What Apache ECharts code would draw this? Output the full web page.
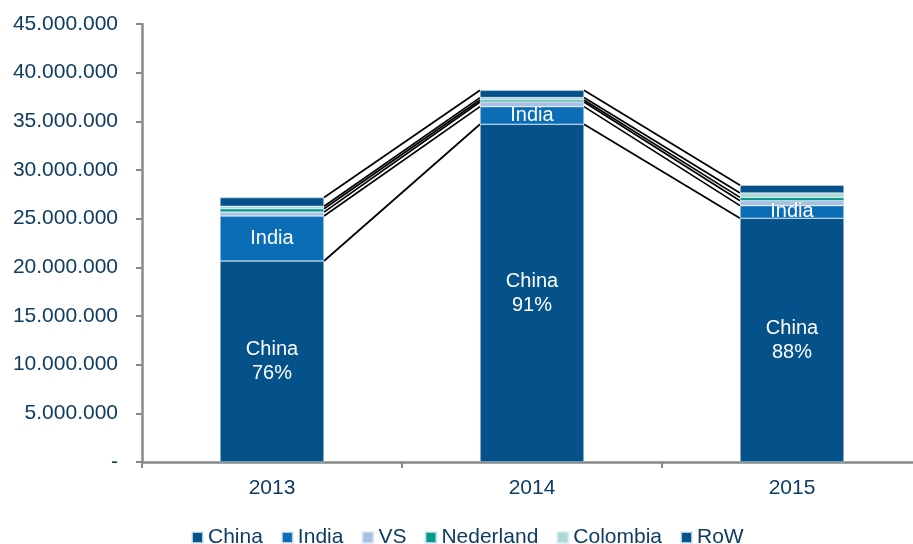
<!DOCTYPE html>
<html>
<head>
<meta charset="utf-8">
<script src="https://cdn.jsdelivr.net/npm/echarts@6/dist/echarts.min.js"></script>
<style>html,body{margin:0;padding:0;background:#fff;overflow:hidden;width:913px;height:544px}#c{width:922px;height:544px}</style>
</head>
<body>
<div id="c"></div>
<script>
var years = ['2013', '2014', '2015'];
var china = [20650000, 34700000, 25040000];
var india = [4620000, 1810000, 1300000];
var vs = [400000, 480000, 500000];
var nederland = [350000, 200000, 350000];
var colombia = [250000, 250000, 450000];
var row = [900000, 750000, 800000];
var yTicks = [0, 5000000, 10000000, 15000000, 20000000, 25000000, 30000000, 35000000, 40000000, 45000000];

var seriesNames = ['China', 'India', 'VS', 'Nederland', 'Colombia', 'RoW'];
var seriesData = [china, india, vs, nederland, colombia, row];
var colors = ['#045289', '#0b6db6', '#a7bfe2', '#00998c', '#a9d9d2', '#045289'];
var textColor = '#0e3c62';
var font = 'Liberation Sans, Arial, sans-serif';

var totals = years.map(function (y, i) {
  var s = 0; seriesData.forEach(function (d) { s += d[i]; }); return s;
});

function fmt(v) {
  if (v === 0) return '-';
  return String(Math.round(v)).replace(/\B(?=(\d{3})+(?!\d))/g, '.');
}

// connector line data: [leftIndex, cumLeft, cumRight]
var lineData = [];
for (var k = 0; k < seriesData.length; k++) {
  for (var i = 0; i < years.length - 1; i++) {
    var a = 0, b = 0;
    for (var j = 0; j <= k; j++) { a += seriesData[j][i]; b += seriesData[j][i + 1]; }
    lineData.push([i, a, b]);
  }
}

var series = seriesNames.map(function (name, idx) {
  var s = {
    name: name,
    type: 'bar',
    stack: 'total',
    barWidth: '40%',
    data: seriesData[idx],
    itemStyle: { color: colors[idx], borderColor: 'rgba(220,232,245,0.8)', borderWidth: 0.6 },
    emphasis: { disabled: true },
    z: 3
  };
  if (name === 'China') {
    s.label = {
      show: true, position: 'inside', color: '#fff', fontFamily: font, fontSize: 20, lineHeight: 24,
      formatter: function (p) { return 'China\n' + Math.round(p.value / totals[p.dataIndex] * 100) + '%'; }
    };
  }
  if (name === 'India') {
    s.label = { show: true, position: 'inside', color: '#fff', fontFamily: font, fontSize: 20, formatter: 'India' };
  }
  return s;
});

series.push({
  type: 'custom',
  name: 'connectors',
  silent: true,
  z: 2,
  data: lineData,
  renderItem: function (params, api) {
    var i = api.value(0);
    var p1 = api.coord([i, api.value(1)]);
    var p2 = api.coord([i + 1, api.value(2)]);
    var half = api.size([1, 0])[0] * 0.2;
    return {
      type: 'line',
      shape: { x1: p1[0] + half, y1: p1[1], x2: p2[0] - half, y2: p2[1] },
      style: { stroke: '#000', lineWidth: 1.7 }
    };
  }
});

var chart = echarts.init(document.getElementById('c'));
chart.setOption({
  animation: false,
  backgroundColor: '#fff',
  grid: { left: 142, right: 0, top: 24, bottom: 82, containLabel: false },
  legend: {
    data: seriesNames,
    left: 186, top: 522,
    icon: 'rect', itemWidth: 11, itemHeight: 11, itemGap: 18,
    textStyle: { color: textColor, fontFamily: font, fontSize: 21, padding: [0, 0, 0, 0] }
  },
  xAxis: {
    type: 'category',
    data: years,
    axisLine: { lineStyle: { color: '#888', width: 2.5 } },
    axisTick: { show: true, length: 6, lineStyle: { color: '#888', width: 2 } },
    axisLabel: { color: textColor, fontFamily: font, fontSize: 21, margin: 16 }
  },
  yAxis: {
    type: 'value',
    min: yTicks[0], max: yTicks[yTicks.length - 1], interval: yTicks[1] - yTicks[0],
    axisLine: { show: true, lineStyle: { color: '#888', width: 2.5 } },
    axisTick: { show: true, length: 6, lineStyle: { color: '#888', width: 2 } },
    splitLine: { show: false },
    axisLabel: { color: textColor, fontFamily: font, fontSize: 21, margin: 24, formatter: fmt }
  },
  series: series
});
</script>
</body>
</html>
